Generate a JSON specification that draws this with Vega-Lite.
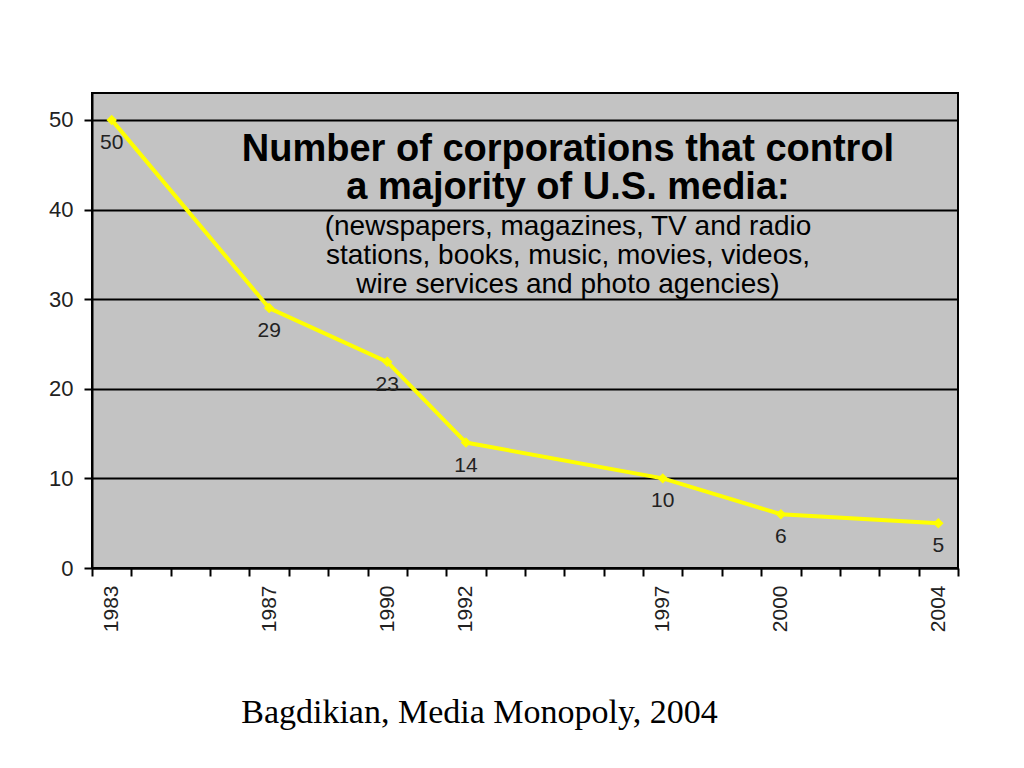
{
  "$schema": "https://vega.github.io/schema/vega-lite/v6.json",
  "width": 866,
  "height": 475,
  "padding": {"left": 48, "top": 93, "right": 10, "bottom": 10},
  "background": "white",
  "config": {
    "font": "Liberation Sans",
    "view": {"fill": "#c3c3c3", "stroke": "black", "strokeWidth": 2}
  },
  "title": {
    "text": ["Number of corporations that control", "a majority of U.S. media:"],
    "subtitle": ["(newspapers, magazines, TV and radio", "stations, books, music, movies, videos,", "wire services and photo agencies)"],
    "anchor": "middle",
    "frame": "group",
    "dx": 43,
    "offset": -206,
    "font": "Liberation Sans",
    "fontSize": 38,
    "fontWeight": "bold",
    "lineHeight": 38,
    "color": "black",
    "subtitleFont": "Liberation Sans",
    "subtitleFontSize": 28,
    "subtitleLineHeight": 29,
    "subtitleColor": "black",
    "subtitlePadding": 6
  },
  "data": {
    "values": [
      {"year": 1983, "count": 50},
      {"year": 1987, "count": 29},
      {"year": 1990, "count": 23},
      {"year": 1992, "count": 14},
      {"year": 1997, "count": 10},
      {"year": 2000, "count": 6},
      {"year": 2004, "count": 5}
    ]
  },
  "encoding": {
    "x": {
      "field": "year",
      "type": "quantitative",
      "scale": {"domain": [1982.5, 2004.5], "nice": false, "zero": false},
      "axis": {
        "values": [1982.5, 1983.5, 1984.5, 1985.5, 1986.5, 1987.5, 1988.5, 1989.5, 1990.5, 1991.5, 1992.5, 1993.5, 1994.5, 1995.5, 1996.5, 1997.5, 1998.5, 1999.5, 2000.5, 2001.5, 2002.5, 2003.5, 2004.5],
        "labelExpr": "indexof([1983,1987,1990,1992,1997,2000,2004], datum.value + 0.5) >= 0 ? format(datum.value + 0.5, 'd') : ''",
        "labelOffset": 19.7,
        "labelAngle": -90,
        "labelAlign": "right",
        "labelBaseline": "middle",
        "labelFlush": false,
        "labelOverlap": false,
        "labelFontSize": 21,
        "labelColor": "#222",
        "labelPadding": 9,
        "tickSize": 8,
        "tickColor": "black",
        "tickWidth": 2,
        "domainColor": "black",
        "domainWidth": 2,
        "grid": false,
        "title": "Bagdikian, Media Monopoly, 2004",
        "titleFont": "Liberation Serif",
        "titleFontSize": 34,
        "titleFontWeight": "normal",
        "titleColor": "black",
        "titleX": 387,
        "titleY": 154,
        "titleBaseline": "alphabetic",
        "titleAlign": "center"
      }
    },
    "y": {
      "field": "count",
      "type": "quantitative",
      "scale": {"domain": [0, 53], "nice": false},
      "axis": {
        "values": [0, 10, 20, 30, 40, 50],
        "labelFontSize": 22,
        "labelColor": "#222",
        "labelPadding": 11,
        "tickSize": 8,
        "tickColor": "black",
        "tickWidth": 2,
        "domainColor": "black",
        "domainWidth": 2,
        "grid": true,
        "gridColor": "black",
        "gridWidth": 2,
        "gridOpacity": 1,
        "title": null
      }
    }
  },
  "layer": [
    {"mark": {"type": "line", "color": "#ffff00", "strokeWidth": 4}},
    {"mark": {"type": "point", "shape": "diamond", "filled": true, "color": "#ffff00", "opacity": 1, "size": 110}},
    {
      "mark": {"type": "text", "dy": 23, "fontSize": 21, "color": "#222", "baseline": "middle"},
      "encoding": {"text": {"field": "count", "type": "quantitative"}}
    }
  ]
}
